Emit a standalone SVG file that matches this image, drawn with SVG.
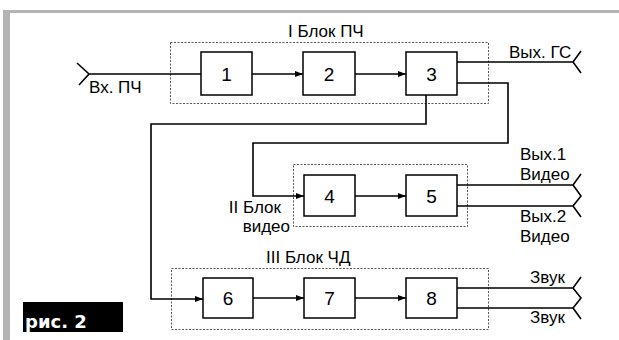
<svg xmlns="http://www.w3.org/2000/svg" width="619" height="340" viewBox="0 0 619 340">
<style>
.box{fill:#fff;stroke:#000;stroke-width:1.5}
.grp{fill:none;stroke:#555;stroke-width:1;stroke-dasharray:2,1.5}
.ln{fill:none;stroke:#000;stroke-width:1.6}
.t{font-family:"Liberation Sans",Arial,sans-serif;font-size:17px;fill:#000}
.n{font-family:"Liberation Sans",Arial,sans-serif;font-size:19px;fill:#000;text-anchor:middle}
</style>
<defs>
<marker id="ar" viewBox="0 0 8 6" refX="8" refY="3" markerWidth="8" markerHeight="6" markerUnits="userSpaceOnUse" orient="auto">
<path d="M0,0 L8,3 L0,6 z" fill="#000"/>
</marker>
</defs>
<rect x="0" y="0" width="619" height="340" fill="#fff"/>
<g id="frame">
<rect x="3" y="10" width="616" height="3" fill="#b4b4b4"/>
<rect x="3" y="10" width="7" height="330" fill="#b4b4b4"/>
</g>
<g id="group1">
<rect class="grp" x="170.5" y="42.5" width="318" height="61"/>
<text class="t" x="288" y="37">I Блок ПЧ</text>
</g>
<g id="group2">
<rect class="grp" x="293.5" y="164.5" width="174" height="62"/>
<text class="t" x="281" y="213" text-anchor="end">II Блок</text>
<text class="t" x="290" y="232" text-anchor="end">видео</text>
</g>
<g id="group3">
<rect class="grp" x="171.5" y="268.5" width="317" height="61"/>
<text class="t" x="266" y="263">III Блок ЧД</text>
</g>
<g id="connectors">
<path class="ln" d="M77,63 L89,74 L79,85 M89,74 L201,74"/>
<path class="ln" d="M252,74 L303,74" marker-end="url(#ar)"/>
<path class="ln" d="M355,74 L406,74" marker-end="url(#ar)"/>
<path class="ln" d="M457,62 L573,62 M581,51 L573,62 L581,73"/>
<path class="ln" d="M457,83 L508,83 L508,143 L253,143 L253,196 L304,196" marker-end="url(#ar)"/>
<path class="ln" d="M426,95 L426,124 L151,124 L151,299 L203,299" marker-end="url(#ar)"/>
<path class="ln" d="M355,196 L406,196" marker-end="url(#ar)"/>
<path class="ln" d="M457,185 L573,185 M581,174 L573,185 L581,196 L573,206 L581,217 M457,206 L573,206"/>
<path class="ln" d="M253,298 L304,298" marker-end="url(#ar)"/>
<path class="ln" d="M355,298 L406,298" marker-end="url(#ar)"/>
<path class="ln" d="M457,288 L573,288 M581,277 L573,288 L581,298 L573,308 L581,319 M457,308 L573,308"/>
</g>
<g id="b1"><rect class="box" x="201" y="52" width="51" height="43"/><text class="n" x="226.5" y="81">1</text></g>
<g id="b2"><rect class="box" x="303" y="52" width="52" height="43"/><text class="n" x="329" y="81">2</text></g>
<g id="b3"><rect class="box" x="406" y="52" width="51" height="43"/><text class="n" x="431.5" y="81">3</text></g>
<g id="b4"><rect class="box" x="304" y="175" width="51" height="41"/><text class="n" x="329.5" y="203">4</text></g>
<g id="b5"><rect class="box" x="406" y="175" width="51" height="41"/><text class="n" x="431.5" y="203">5</text></g>
<g id="b6"><rect class="box" x="203" y="278" width="50" height="40"/><text class="n" x="228" y="305">6</text></g>
<g id="b7"><rect class="box" x="304" y="278" width="51" height="40"/><text class="n" x="329.5" y="305">7</text></g>
<g id="b8"><rect class="box" x="406" y="278" width="51" height="40"/><text class="n" x="431.5" y="305">8</text></g>
<g id="labels">
<text class="t" x="89" y="93">Вх. ПЧ</text>
<text class="t" x="509" y="58">Вых. ГС</text>
<text class="t" x="520" y="160">Вых.1</text>
<text class="t" x="520" y="180">Видео</text>
<text class="t" x="520" y="222">Вых.2</text>
<text class="t" x="520" y="242">Видео</text>
<text class="t" x="530" y="283">Звук</text>
<text class="t" x="530" y="323">Звук</text>
</g>
<g id="caption">
<rect x="23" y="302" width="100" height="30" fill="#000"/>
<text x="25" y="328" font-family="DejaVu Sans,sans-serif" font-size="18" font-weight="bold" fill="#fff">рис. 2</text>
</g>
</svg>
